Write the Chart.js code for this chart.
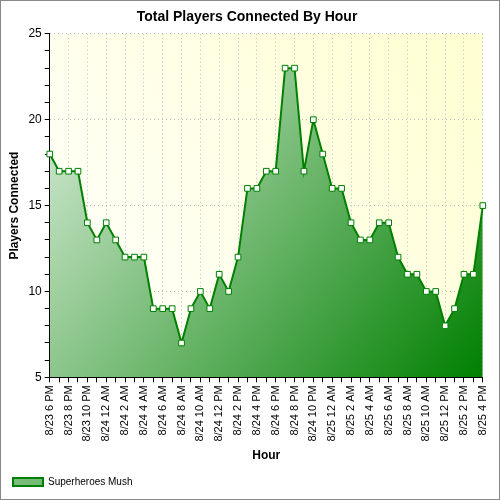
<!DOCTYPE html>
<html><head><script src="https://cdn.jsdelivr.net/npm/chart.js@4"></script>
<style>body{margin:0;background:#fff}#w{width:498px;height:498px;border:1px solid #888}</style></head>
<body><div id="w"><canvas id="c" width="498" height="498"></canvas></div>
<script>
const categories = ["8/23 6 PM","8/23 7 PM","8/23 8 PM","8/23 9 PM","8/23 10 PM","8/23 11 PM","8/24 12 AM","8/24 1 AM","8/24 2 AM","8/24 3 AM","8/24 4 AM","8/24 5 AM","8/24 6 AM","8/24 7 AM","8/24 8 AM","8/24 9 AM","8/24 10 AM","8/24 11 AM","8/24 12 PM","8/24 1 PM","8/24 2 PM","8/24 3 PM","8/24 4 PM","8/24 5 PM","8/24 6 PM","8/24 7 PM","8/24 8 PM","8/24 9 PM","8/24 10 PM","8/24 11 PM","8/25 12 AM","8/25 1 AM","8/25 2 AM","8/25 3 AM","8/25 4 AM","8/25 5 AM","8/25 6 AM","8/25 7 AM","8/25 8 AM","8/25 9 AM","8/25 10 AM","8/25 11 AM","8/25 12 PM","8/25 1 PM","8/25 2 PM","8/25 3 PM","8/25 4 PM"];
const players = [18,17,17,17,14,13,14,13,12,12,12,9,9,9,7,9,10,9,11,10,12,16,16,17,17,23,23,17,20,18,16,16,14,13,13,14,14,12,11,11,10,10,8,9,11,11,15];
const seriesName = "Superheroes Mush";
const yTicks = [5,10,15,20,25];

const bgPlugin = {id:'bg',beforeDraw(ch){const a=ch.chartArea,c=ch.ctx;const g=c.createLinearGradient(a.left,a.bottom,a.right,a.top);g.addColorStop(0,'#ffffff');g.addColorStop(1,'#ffffd0');c.save();c.fillStyle=g;c.fillRect(a.left,a.top,a.width,a.height);c.restore();}};
new Chart(document.getElementById('c'),{type:'line',
data:{labels:categories,datasets:[{label:seriesName,data:players,borderColor:'#008000',borderWidth:2,tension:0,
fill:'start',backgroundColor(ctx){const a=ctx.chart.chartArea;if(!a)return'#4a4';const g=ctx.chart.ctx.createLinearGradient(a.left,a.top,a.right,a.bottom);g.addColorStop(0,'#e4f2e4');g.addColorStop(1,'#008000');return g;},
pointStyle:'rect',pointRadius:4,pointBackgroundColor:'#fff',pointBorderColor:'#008000',pointBorderWidth:1}]},
options:{responsive:false,animation:false,layout:{padding:{left:2,right:8,top:0,bottom:2}},
plugins:{title:{display:true,text:'Total Players Connected By Hour',font:{family:'Arial, Liberation Sans',size:14,weight:'bold'},color:'#000',padding:{top:8,bottom:8}},
legend:{position:'bottom',align:'start',labels:{boxWidth:30,boxHeight:8,font:{family:'Arial, Liberation Sans',size:10},color:'#000'}},tooltip:{enabled:false}},
scales:{x:{offset:false,grid:{color(c){return c.index%2===0?'#bbb':'rgba(0,0,0,0)';},tickColor:'#000',tickLength:5},border:{color:'#000',dash:[1,3]},
ticks:{autoSkip:false,maxRotation:90,minRotation:90,color:'#000',font:{family:'Arial, Liberation Sans',size:11},callback(v,i){return i%2===0?categories[i]:'';}},
title:{display:true,text:'Hour',font:{family:'Arial, Liberation Sans',size:12,weight:'bold'},color:'#000'}},
y:{min:5,max:25,grid:{color(c){return c.tick.value%5===0?'#bbb':'rgba(0,0,0,0)';},tickColor:'#000',tickLength:5},border:{color:'#000',dash:[1,3]},
ticks:{stepSize:1,autoSkip:false,color:'#000',font:{family:'Arial, Liberation Sans',size:12},callback(v){return yTicks.includes(v)?v:'';}},
title:{display:true,text:'Players Connected',font:{family:'Arial, Liberation Sans',size:12,weight:'bold'},color:'#000'}}}},
plugins:[bgPlugin]});
</script></body></html>
